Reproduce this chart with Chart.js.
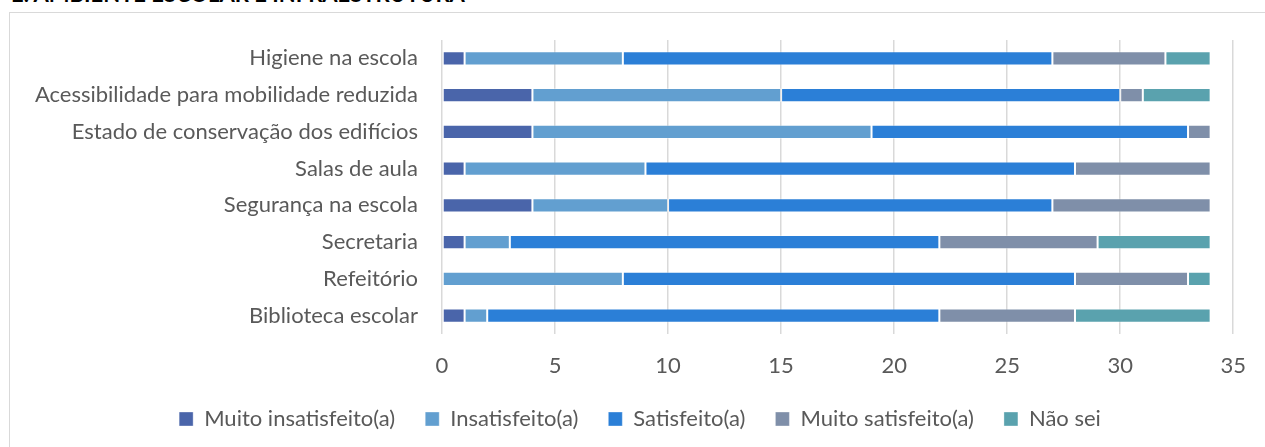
<!DOCTYPE html>
<html>
<head>
<meta charset="utf-8">
<script src="https://cdn.jsdelivr.net/npm/chart.js@4.4.0/dist/chart.umd.min.js"></script>
<style>
    html, body { margin: 0; padding: 0; background: #fff; overflow: hidden; width: 1265px; height: 447px; }
    #titulo { position: absolute; left: 11px; top: -20px; font: bold 22px Lato; color: #000; white-space: nowrap; }
    #caixa { position: absolute; left: 9px; top: 12px; width: 1300px; height: 500px; border: 1px solid #d9d9d9; }
    #wrap { position: absolute; left: 0; top: 0; }
</style>
</head>
<body>
<div id="titulo">E. AMBIENTE ESCOLAR E INFRAESTRUTURA</div>
<div id="caixa"></div>
<div id="wrap"><canvas id="grafico" width="1265" height="440"></canvas></div>
<script>
// dados
const categorias = [
    'Higiene na escola',
    'Acessibilidade para mobilidade reduzida',
    'Estado de conservação dos edifícios',
    'Salas de aula',
    'Segurança na escola',
    'Secretaria',
    'Refeitório',
    'Biblioteca escolar'
];
const muito_insatisfeito = [1, 4, 4, 1, 4, 1, 0, 1];
const insatisfeito = [7, 11, 15, 8, 6, 2, 8, 1];
const satisfeito = [19, 15, 14, 19, 17, 19, 20, 20];
const muito_satisfeito = [5, 1, 1, 6, 7, 7, 5, 6];
const nao_sei = [2, 3, 0, 0, 0, 5, 1, 6];
const ticks_x = [0, 5, 10, 15, 20, 25, 30, 35];

Chart.defaults.font.family = 'Lato';
Chart.defaults.color = '#595959';

function serie(label, data, cor) {
    return {
        label: label,
        data: data,
        backgroundColor: cor,
        borderColor: 'rgba(255, 255, 255, 0.35)',
        borderWidth: 1,
        borderSkipped: false,
        categoryPercentage: 1,
        barPercentage: 0.39,
    };
}

// empurra a legenda um pouco para a direita
const move_legenda = {
    id: 'move_legenda',
    afterLayout(chart) {
        chart.legend.left += 22;
        chart.legend.right += 22;
    },
};

const config_grafico = {
    type: 'bar',
    data: {
        labels: categorias,
        datasets: [
            serie('Muito insatisfeito(a)', muito_insatisfeito, '#4a65aa'),
            serie('Insatisfeito(a)', insatisfeito, '#629fd0'),
            serie('Satisfeito(a)', satisfeito, '#2b7fd7'),
            serie('Muito satisfeito(a)', muito_satisfeito, '#7f8fa9'),
            serie('Não sei', nao_sei, '#5aa2ae'),
        ],
    },
    options: {
        indexAxis: 'y',
        responsive: false,
        animation: false,
        layout: {
            padding: { top: 40, right: 29, left: 0, bottom: 0 },
        },
        scales: {
            x: {
                stacked: true,
                min: 0,
                max: 35,
                afterBuildTicks(scale) {
                    scale.ticks = ticks_x.map(v => ({ value: v }));
                },
                afterFit(scale) {
                    scale.height = 44;
                },
                grid: {
                    color: '#d9d9d9',
                    lineWidth: 1.5,
                    drawTicks: false,
                },
                border: { display: false },
                ticks: {
                    padding: 19,
                    font: { size: 22 },
                },
            },
            y: {
                stacked: true,
                afterFit(scale) {
                    scale.width = 442;
                },
                grid: { display: false, drawTicks: false },
                border: { display: false },
                ticks: {
                    padding: 24,
                    font: { size: 22 },
                },
            },
        },
        plugins: {
            legend: {
                position: 'bottom',
                labels: {
                    boxWidth: 14,
                    boxHeight: 14,
                    padding: 30,
                    font: { size: 22 },
                },
            },
            tooltip: { enabled: false },
        },
    },
    plugins: [move_legenda],
};

const ctx_grafico = document.getElementById('grafico').getContext('2d');
const grafico = new Chart(ctx_grafico, config_grafico);
</script>
</body>
</html>
